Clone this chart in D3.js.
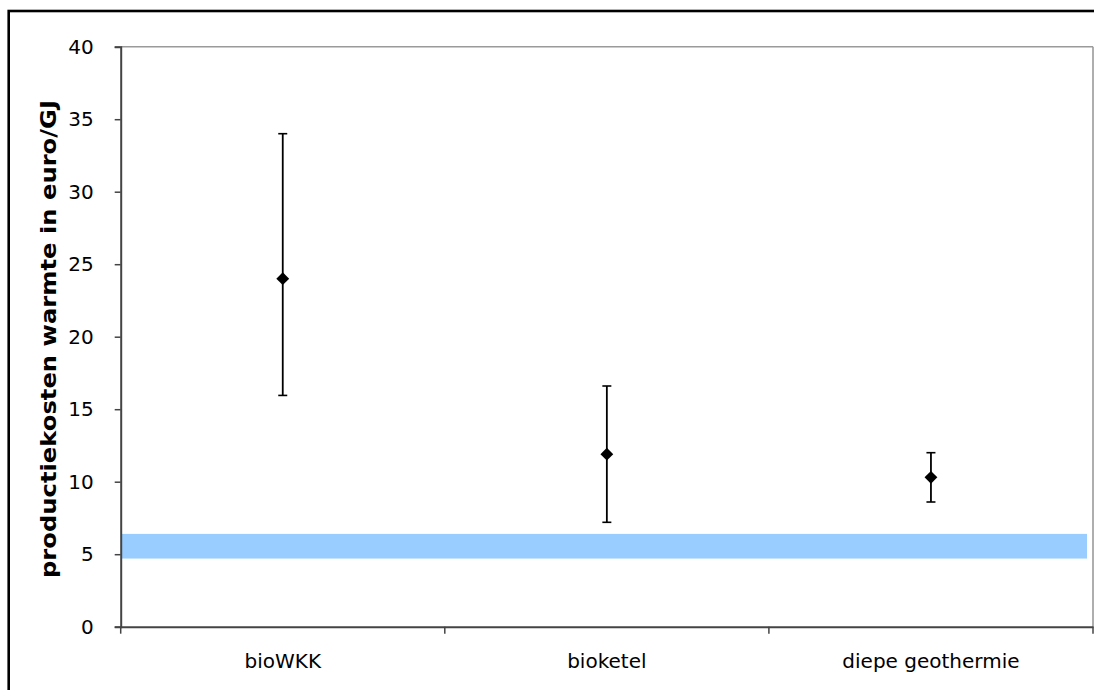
<!DOCTYPE html>
<html><head><meta charset="utf-8">
<script src="https://cdn.jsdelivr.net/npm/d3@7"></script>
<style>
html,body{margin:0;padding:0;background:#fff;}
svg{display:block;}
text{font-family:"DejaVu Sans",Verdana,sans-serif;}
</style></head>
<body>
<svg id="chart" width="1094" height="690"></svg>
<script>
const categories = ["bioWKK", "bioketel", "diepe geothermie"];
const values = [24.0, 11.9, 10.3];
const lows = [15.95, 7.2, 8.6];
const highs = [34.0, 16.6, 12.0];
const bandRange = [4.7, 6.4];
const yTicks = [0, 5, 10, 15, 20, 25, 30, 35, 40];
const yTitle = "productiekosten warmte in euro/GJ";

const svg = d3.select("#chart");
const L = 120.7, R = 1093, T = 46.7, B = 626.7;

// outer frame
svg.append("rect").attr("x", 8.7).attr("y", 11).attr("width", 1200).attr("height", 800)
  .attr("fill", "none").attr("stroke", "#000").attr("stroke-width", 2.6);

const x = d3.scaleBand().domain(categories).range([L, R]).padding(0);
const y = d3.scaleLinear().domain([0, 40]).range([B, T]);

// plot border (top/right) in gray
svg.append("line").attr("x1", L).attr("x2", R).attr("y1", y(40)).attr("y2", y(40))
  .attr("stroke", "#9a9a9a").attr("stroke-width", 1.6);
svg.append("line").attr("x1", R).attr("x2", R).attr("y1", y(40)).attr("y2", B)
  .attr("stroke", "#9a9a9a").attr("stroke-width", 1.6);

// blue band
svg.append("rect")
  .attr("x", L + 1).attr("width", (R - 6) - (L + 1))
  .attr("y", y(bandRange[1])).attr("height", y(bandRange[0]) - y(bandRange[1]))
  .attr("fill", "#99ccff");

// y axis
const yAxis = d3.axisLeft(y).tickValues(yTicks).tickSize(6).tickPadding(21).tickFormat(d3.format("d"));
const gy = svg.append("g").attr("transform", `translate(${L},0)`).call(yAxis);
gy.select(".domain").attr("stroke", "#444").attr("stroke-width", 2);
gy.selectAll(".tick line").attr("stroke", "#444").attr("stroke-width", 1.5);
gy.selectAll(".tick text").attr("font-size", 20).attr("fill", "#000")
  .attr("font-family", '"DejaVu Sans",Verdana,sans-serif');

// x axis
const xAxis = d3.axisBottom(x).tickSize(0).tickPadding(0).tickFormat(d => d);
const gx = svg.append("g").attr("transform", `translate(0,${B})`).call(xAxis);
gx.select(".domain").attr("stroke", "#444").attr("stroke-width", 2);
gx.selectAll(".tick text").attr("font-size", 20).attr("fill", "#000")
  .attr("y", 41).attr("dy", 0)
  .attr("font-family", '"DejaVu Sans",Verdana,sans-serif');
// boundary ticks
const bounds = categories.map(c => x(c)).concat([x(categories[categories.length-1]) + x.bandwidth()]);
svg.append("g").selectAll("line").data(bounds).join("line")
  .attr("x1", d => d).attr("x2", d => d).attr("y1", B).attr("y2", B + 7)
  .attr("stroke", "#444").attr("stroke-width", 1.5);

// y title
svg.append("text")
  .attr("transform", `translate(56,339) rotate(-90)`)
  .attr("text-anchor", "middle")
  .attr("font-weight", "bold").attr("font-size", 21.5).attr("fill", "#000")
  .attr("textLength", 478).attr("lengthAdjust", "spacingAndGlyphs")
  .text(yTitle);

// error bars
const cx = i => x(categories[i]) + x.bandwidth() / 2;
const g = svg.append("g");
categories.forEach((c, i) => {
  g.append("line").attr("x1", cx(i)).attr("x2", cx(i)).attr("y1", y(lows[i])).attr("y2", y(highs[i]))
    .attr("stroke", "#000").attr("stroke-width", 1.8);
  [lows[i], highs[i]].forEach(v => {
    g.append("line").attr("x1", cx(i) - 4.5).attr("x2", cx(i) + 4.5).attr("y1", y(v)).attr("y2", y(v))
      .attr("stroke", "#000").attr("stroke-width", 1.6);
  });
});
// diamonds
g.selectAll("path.pt").data(values).join("path").attr("class", "pt")
  .attr("d", d3.symbol().type(d3.symbolDiamond2).size(105))
  .attr("transform", (d, i) => `translate(${cx(i)},${y(d)})`)
  .attr("fill", "#000");
</script>
</body></html>
